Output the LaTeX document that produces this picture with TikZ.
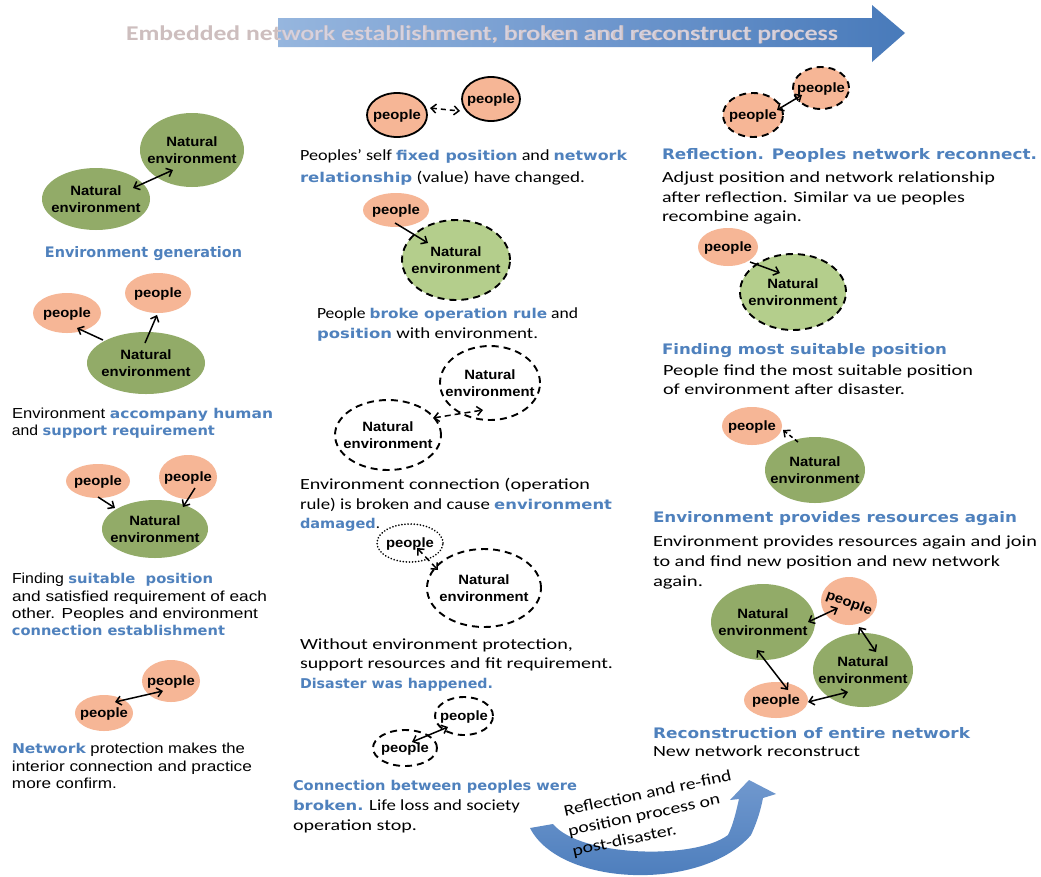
\documentclass[tikz,border=0pt]{standalone}
\usepackage{fontspec}
\usepackage{graphicx}
\setmainfont{Carlito}
\newfontfamily\leftfont{Liberation Sans}
\newfontfamily\headfont{DejaVu Sans}
\newfontfamily\nodefont{Liberation Sans}[FakeStretch=1.1]
\usetikzlibrary{shapes.geometric,arrows.meta,calc}

\definecolor{envgreen}{RGB}{146,171,104}
\definecolor{palegreen}{RGB}{180,206,140}
\definecolor{peach}{RGB}{246,182,150}
\definecolor{hblue}{RGB}{79,129,189}
\definecolor{arrowdark}{RGB}{72,122,186}
\definecolor{arrowmid}{RGB}{112,152,206}
\definecolor{arrowlight}{RGB}{150,182,222}
\definecolor{titlegray}{RGB}{205,190,190}
\definecolor{titlepale}{RGB}{214,210,224}

% blue bold emphasis inside a sentence, and a whole blue heading line
\newcommand\hb[1]{{\headfont\bfseries\color{hblue}\fontsize{13.5}{17}\selectfont#1}}
\newcommand\hh[1]{{\headfont\bfseries\color{hblue}\fontsize{14.5}{17}\selectfont#1}}
% text inside an ellipse, kept out of the shape's size computation
\newcommand\inside[1]{\makebox[0pt]{\smash{\raisebox{-4.8pt}{\begin{tabular}{@{}c@{}}#1\end{tabular}}}}}
% one line of running text, stretched to a given width
\newcommand\txtline[5]{\node[txt] (#1) at (#2,#3) {\resizebox{#4pt}{\height}{#5}};}

\tikzset{
  radii/.style 2 args={minimum width={2*#1pt}, minimum height={2*#2pt}},
  ell/.style={ellipse, inner sep=0pt, outer sep=0pt,
    font=\nodefont\bfseries\fontsize{13.5}{17}\selectfont},
  env/.style={ell, fill=envgreen},
  ppl/.style={ell, fill=peach},
  brk/.style={draw=black, line width=1.9pt, dash pattern=on 7pt off 5pt},
  dots/.style={draw=black, line width=1.8pt, dash pattern=on 0.1pt off 3pt, line cap=round},
  firm/.style={draw=black, line width=1.8pt},
  link/.style={line width=1.5pt, black, {Straight Barb[length=5pt,width=9pt]}-{Straight Barb[length=5pt,width=9pt]}},
  oneway/.style={line width=1.5pt, black, -{Straight Barb[length=5pt,width=9pt]}},
  txt/.style={anchor=base west, inner sep=0pt, outer sep=0pt},
  lefttext/.style={font=\leftfont\fontsize{14.5}{17}\selectfont},
  bodytext/.style={font=\fontsize{15.5}{18}\selectfont},
}

\begin{document}
\begin{tikzpicture}[x=1pt,y=-1pt]
\useasboundingbox[fill=white] (0,0) rectangle (1041,876);

% ---------- process arrow along the top ----------
\shade[left color=arrowlight, right color=arrowdark, middle color=arrowmid]
  (278,18) -- (872,18) -- (872,5) -- (905,33) -- (872,62) -- (872,47) -- (278,47) -- cycle;
\node[txt, text=titlegray, font=\bfseries\fontsize{21}{24}\selectfont] (title) at (126,40)
  {\resizebox{712pt}{\height}{Embedded network establishment, broken and reconstruct process}};
\begin{scope}
  \clip (278,18) -- (872,18) -- (872,5) -- (905,33) -- (872,62) -- (872,47) -- (278,47) -- cycle;
  \node[txt, text=titlepale, font=\fontsize{21}{24}\selectfont] (titleb) at (126,40)
    {\resizebox{712pt}{\height}{Embedded network establishment, broken and reconstruct process}};
\end{scope}

% ---------- left column: establishment ----------
\node[env, radii={54}{31}] (g1) at (96,199) {\inside{Natural\\environment}};
\node[env, radii={52}{37}] (g2) at (192,150) {\inside{Natural\\environment}};
\draw[link] ($(g1)+(37,-11)$) -- ($(g2)+(-19,20)$);

\node[env, radii={59}{31}] (an) at (146,363) {\inside{Natural\\environment}};
\node[ppl, radii={34}{20}] (ap1) at (67,313) {\inside{people}};
\node[ppl, radii={33}{20}] (ap2) at (158,293) {\inside{people}};
\draw[oneway] ($(an)+(-43,-23)$) -- ($(ap1)+(10,15)$);
\draw[oneway] ($(an)+(-1,-20)$) -- ($(ap2)+(-1,22)$);

\node[env, radii={53}{29}] (fn) at (155,529) {\inside{Natural\\environment}};
\node[ppl, radii={32}{17}] (fp1) at (98,481) {\inside{people}};
\node[ppl, radii={29}{22}] (fp2) at (188,477) {\inside{people}};
\draw[oneway] ($(fp1)+(0,16)$) -- ($(fn)+(-40,-21)$);
\draw[oneway] ($(fp2)+(7,11)$) -- ($(fn)+(28,-22)$);

\node[ppl, radii={29}{18}] (np1) at (104,713) {\inside{people}};
\node[ppl, radii={29}{21}] (np2) at (171,681) {\inside{people}};
\draw[link] ($(np1)+(11,-11)$) -- ($(np2)+(-8,10)$);

\begin{scope}[lefttext]
\txtline{lgen}{45}{257}{197}{\hh{Environment generation}}
\txtline{lacc1}{12}{418}{261}{Environment \hb{accompany human}}
\txtline{lacc2}{12}{435}{203}{and \hb{support requirement}}
\txtline{lfin1}{12}{583}{201}{Finding \hb{suitable\ \ position}}
\txtline{lfin2}{12}{601}{255}{and satisfied requirement of each}
\txtline{lfin3}{12}{618}{246}{other. Peoples and environment}
\txtline{lfin4}{12}{635}{213}{\hb{connection establishment}}
\txtline{lnet1}{12}{753}{233}{\hb{Network} protection makes the}
\txtline{lnet2}{12}{771}{240}{interior connection and practice}
\txtline{lnet3}{12}{788}{105}{more confirm.}
\end{scope}

% ---------- middle column: breaking down ----------
\node[ppl, firm, radii={30}{22}] (mp1) at (397,115) {\inside{people}};
\node[ppl, firm, radii={29}{22}] (mp2) at (491,99) {\inside{people}};
\draw[link, dash pattern=on 5pt off 4pt] ($(mp1)+(33,-7)$) -- ($(mp2)+(-31,12)$);

\node[ppl, radii={33}{17}] (bp) at (396,210) {\inside{people}};
\node[ell, brk, fill=palegreen, radii={54}{40}] (bn) at (456,260) {\inside{Natural\\environment}};
\draw[oneway] ($(bp)+(-1,13)$) -- ($(bn)+(-28,-17)$);

\node[ell, brk, radii={50}{37}] (cn1) at (490,383) {\inside{Natural\\environment}};
\node[ell, brk, radii={53}{35}] (cn2) at (388,435) {\inside{Natural\\environment}};
\draw[link, dash pattern=on 6pt off 4pt] ($(cn2)+(45,-17)$) -- ($(cn1)+(-7,27)$);

\node[ell, dots, radii={33}{19}] (dp) at (410,543) {\inside{people}};
\node[ell, brk, radii={57}{39}] (dn) at (484,588) {\inside{Natural\\environment}};
\draw[link, dash pattern=on 6pt off 4pt] ($(dp)+(7,5)$) -- ($(dn)+(-46,-18)$);

\node[ell, brk, radii={29}{19}] (ep1) at (464,716) {\inside{people}};
\node[ell, brk, radii={32}{18}] (ep2) at (405,748) {\inside{people}};
\draw[link] ($(ep2)+(7,-6)$) -- ($(ep1)+(-16,11)$);

\begin{scope}[bodytext]
\txtline{m1a}{300}{160}{327}{Peoples’ self \hb{fixed position} and \hb{network}}
\txtline{m1b}{300}{182}{285}{\hb{relationship} (value) have changed.}
\txtline{m2a}{317}{318}{261}{People \hb{broke operation rule} and}
\txtline{m2b}{317}{338}{221}{\hb{position} with environment.}
\txtline{m3a}{300}{489}{290}{Environment connection (operation}
\txtline{m3b}{300}{509}{312}{rule) is broken and cause \hb{environment}}
\txtline{m3c}{300}{528}{80}{\hb{damaged}.}
\txtline{m4a}{300}{649}{273}{Without environment protection,}
\txtline{m4b}{300}{668}{313}{support resources and fit requirement.}
\txtline{m4c}{300}{688}{193}{\hb{Disaster was happened.}}
\txtline{m5a}{293}{790}{284}{\hb{Connection between peoples were}}
\txtline{m5b}{293}{810}{227}{\hb{broken.} Life loss and society}
\txtline{m5c}{293}{830}{124}{operation stop.}
\end{scope}

% ---------- curved return arrow ----------
\shade[top color=arrowmid, bottom color=arrowdark]
  (530,828) .. controls (560,887) and (702,892) .. (751,835)
  .. controls (758,820) and (761,808) .. (763,798) -- (776,794) -- (749,780)
  -- (730,800) -- (739,799) .. controls (736,812) and (733,825) .. (728,835)
  .. controls (695,860) and (580,857) .. (553,824) -- cycle;
\node[txt, rotate=12, font=\fontsize{16}{20.5}\selectfont] (curvetext) at (565,816)
  {\begin{tabular}[t]{@{}l@{}}
   \resizebox{171pt}{\height}{Reflection and re-find}\\
   \resizebox{155pt}{\height}{position process on}\\
   \resizebox{106pt}{\height}{post-disaster.}
   \end{tabular}};

% ---------- right column: reconstruction ----------
\node[ell, brk, fill=peach, radii={30}{22}] (rp1) at (753,115) {\inside{people}};
\node[ell, brk, fill=peach, radii={28}{21}] (rp2) at (821,88) {\inside{people}};
\draw[link] ($(rp1)+(24,-5)$) -- ($(rp2)+(-19,7)$);

\node[ppl, radii={30}{19}] (sp) at (728,247) {\inside{people}};
\node[ell, brk, fill=palegreen, radii={53}{38}] (sn) at (793,292) {\inside{Natural\\environment}};
\draw[oneway] ($(sp)+(22,15)$) -- ($(sn)+(-13,-19)$);

\node[ppl, radii={30}{19}] (tp) at (752,426) {\inside{people}};
\node[env, radii={50}{33}] (tn) at (815,470) {\inside{Natural\\environment}};
\draw[oneway, dash pattern=on 4pt off 3pt] ($(tn)+(-17,-28)$) -- ($(tp)+(31,4)$);

\node[env, radii={52}{38}] (un1) at (763,622) {\inside{Natural\\environment}};
\node[env, radii={50}{37}] (un2) at (863,670) {\inside{Natural\\environment}};
\node[ppl, radii={28}{24}] (up1) at (849,601) {\inside{\rotatebox{-20}{people}}};
\node[ppl, radii={32}{18}] (up2) at (776,700) {\inside{people}};
\draw[link] ($(un1)+(45,0)$) -- ($(up1)+(-11,7)$);
\draw[link] ($(up1)+(10,26)$) -- ($(un2)+(13,-18)$);
\draw[link] ($(un1)+(-6,28)$) -- ($(up2)+(12,-10)$);
\draw[link] ($(up2)+(32,2)$) -- ($(un2)+(-15,22)$);

\begin{scope}[bodytext]
\txtline{r1h}{662}{159}{375}{\hh{Reflection. Peoples network reconnect.}}
\txtline{r1a}{662}{182}{333}{Adjust position and network relationship}
\txtline{r1b}{662}{202}{303}{after reflection. Similar va ue peoples}
\txtline{r1c}{662}{221}{140}{recombine again.}
\txtline{r2h}{662}{354}{285}{\hh{Finding most suitable position}}
\txtline{r2a}{663}{375}{310}{People find the most suitable position}
\txtline{r2b}{663}{394}{242}{of environment after disaster.}
\txtline{r3h}{653}{522}{364}{\hh{Environment provides resources again}}
\txtline{r3a}{653}{546}{384}{Environment provides resources again and join}
\txtline{r3b}{653}{566}{347}{to and find new position and new network}
\txtline{r3c}{653}{586}{50}{again.}
\txtline{r4h}{653}{738}{317}{\hh{Reconstruction of entire network}}
\txtline{r4a}{653}{756}{207}{New network reconstruct}
\end{scope}
\end{tikzpicture}
\end{document}
